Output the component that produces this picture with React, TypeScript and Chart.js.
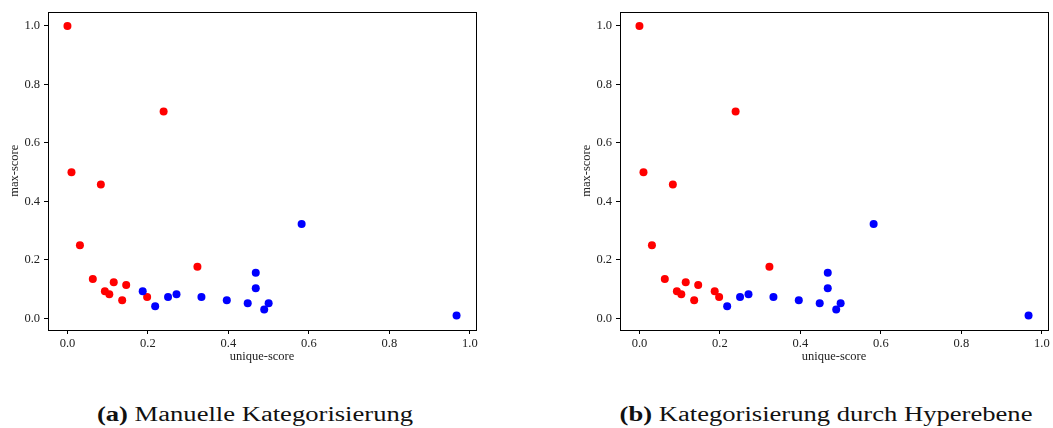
import React, { useEffect, useRef } from "react";
import { Chart, registerables } from "chart.js";

Chart.register(...registerables);

// ---------- data ----------
const uniqueScore = [
  0.0, 0.01, 0.031, 0.063, 0.083, 0.093, 0.104, 0.115, 0.136, 0.146, 0.198, 0.239, 0.323,
  0.187, 0.218, 0.25, 0.271, 0.333, 0.396, 0.448, 0.468, 0.468, 0.5, 0.489, 0.582, 0.967,
];
const maxScore = [
  1.0, 0.5, 0.25, 0.135, 0.458, 0.093, 0.083, 0.124, 0.0625, 0.114, 0.073, 0.708, 0.177,
  0.093, 0.042, 0.073, 0.083, 0.073, 0.0625, 0.052, 0.156, 0.103, 0.052, 0.031, 0.323, 0.01,
];
// 1 = red class, 0 = blue class
const manualCategory = [
  1, 1, 1, 1, 1, 1, 1, 1, 1, 1, 1, 1, 1,
  0, 0, 0, 0, 0, 0, 0, 0, 0, 0, 0, 0, 0,
];
const hyperplaneCategory = [
  1, 1, 1, 1, 1, 1, 1, 1, 1, 1, 1, 1, 1,
  1, 0, 0, 0, 0, 0, 0, 0, 0, 0, 0, 0, 0,
];
const xTickValues = [0, 0.2, 0.4, 0.6, 0.8, 1.0];
const yTickValues = [0, 0.2, 0.4, 0.6, 0.8, 1.0];
const xAxisTitle = "unique-score";
const yAxisTitle = "max-score";
const captionA = { tag: "(a)", text: "Manuelle Kategorisierung" };
const captionB = { tag: "(b)", text: "Kategorisierung durch Hyperebene" };

// ---------- styling ----------
const RED = "#ff0000";
const BLUE = "#0000ff";
const FONT = "'Liberation Serif', 'Times New Roman', serif";

function paddedRange(values: number[]): [number, number] {
  const lo = Math.min(...values);
  const hi = Math.max(...values);
  const m = (hi - lo) * 0.05;
  return [lo - m, hi + m];
}

const framePlugin = {
  id: "frame",
  afterDatasetsDraw(chart: any) {
    const { ctx, chartArea: a } = chart;
    ctx.save();
    ctx.strokeStyle = "#000";
    ctx.lineWidth = 1;
    const l = Math.round(a.left) + 0.5;
    const t = Math.round(a.top) + 0.5;
    const r = Math.round(a.right) + 0.5;
    const b = Math.round(a.bottom) + 0.5;
    ctx.strokeRect(l, t, r - l, b - t);
    ctx.restore();
  },
};

type PanelProps = {
  categories: number[];
  left: number;
  width: number;
  padRight: number;
};

function ScatterPanel({ categories, left, width, padRight }: PanelProps) {
  const ref = useRef<HTMLCanvasElement | null>(null);
  const height = 370;

  useEffect(() => {
    if (!ref.current) return;
    const [xMin, xMax] = paddedRange(uniqueScore);
    const [yMin, yMax] = paddedRange(maxScore);
    const points = uniqueScore.map((x, i) => ({ x, y: maxScore[i] }));
    const colors = categories.map((c) => (c === 1 ? RED : BLUE));
    const tickFont = { family: FONT, size: 12.5 };
    const titleFont = { family: FONT, size: 12.5, lineHeight: 1.2 };

    const chart = new Chart(ref.current, {
      type: "scatter",
      data: {
        datasets: [
          {
            data: points,
            backgroundColor: colors,
            borderColor: colors,
            borderWidth: 0,
            pointRadius: 4,
            pointHoverRadius: 4,
          },
        ],
      },
      options: {
        responsive: false,
        animation: false,
        events: [],
        layout: { padding: { top: 10, right: padRight, bottom: 0, left: 0 } },
        plugins: {
          legend: { display: false },
          tooltip: { enabled: false },
        },
        scales: {
          x: {
            type: "linear",
            min: xMin,
            max: xMax,
            afterBuildTicks: (s: any) => {
              s.ticks = xTickValues.map((v) => ({ value: v }));
            },
            afterFit: (s: any) => {
              s.height = 40;
            },
            grid: {
              display: true,
              drawOnChartArea: false,
              drawTicks: true,
              tickLength: 4,
              color: "#000",
              lineWidth: 1,
            },
            border: { display: false },
            ticks: {
              font: tickFont,
              color: "#222",
              padding: 2,
              maxRotation: 0,
              autoSkip: false,
              callback: (v: any) => Number(v).toFixed(1),
            },
            title: {
              display: true,
              text: xAxisTitle,
              font: titleFont,
              color: "#222",
              padding: { top: 0, bottom: 6 },
            },
          },
          y: {
            type: "linear",
            min: yMin,
            max: yMax,
            afterBuildTicks: (s: any) => {
              s.ticks = yTickValues.map((v) => ({ value: v }));
            },
            afterFit: (s: any) => {
              s.width = 48;
            },
            grid: {
              display: true,
              drawOnChartArea: false,
              drawTicks: true,
              tickLength: 4,
              color: "#000",
              lineWidth: 1,
            },
            border: { display: false },
            ticks: {
              font: tickFont,
              color: "#222",
              padding: 4,
              autoSkip: false,
              callback: (v: any) => Number(v).toFixed(1),
            },
            title: {
              display: true,
              text: yAxisTitle,
              font: titleFont,
              color: "#222",
              padding: { top: 7.5, bottom: 0 },
            },
          },
        },
      },
      plugins: [framePlugin],
    } as any);
    return () => chart.destroy();
  }, [categories, padRight]);

  return (
    <canvas
      ref={ref}
      width={width}
      height={height}
      style={{ position: "absolute", left, top: 0, width, height }}
    />
  );
}

function Caption({ tag, text, center }: { tag: string; text: string; center: number }) {
  return (
    <div
      style={{
        position: "absolute",
        left: center,
        top: 404,
        fontFamily: FONT,
        fontSize: 20,
        lineHeight: "20px",
        whiteSpace: "nowrap",
        color: "#111",
        transform: "translateX(-50%) scaleX(1.33)",
        transformOrigin: "50% 50%",
      }}
    >
      <b>{tag}</b> {text}
    </div>
  );
}

export default function App() {
  return (
    <div
      style={{
        position: "fixed",
        left: 0,
        top: 0,
        width: 1053,
        height: 428,
        background: "#fff",
        overflow: "hidden",
      }}
    >
      <ScatterPanel categories={manualCategory} left={0} width={500} padRight={24} />
      <ScatterPanel categories={hyperplaneCategory} left={572} width={481} padRight={5} />
      <Caption tag={captionA.tag} text={captionA.text} center={255} />
      <Caption tag={captionB.tag} text={captionB.text} center={825.5} />
    </div>
  );
}
